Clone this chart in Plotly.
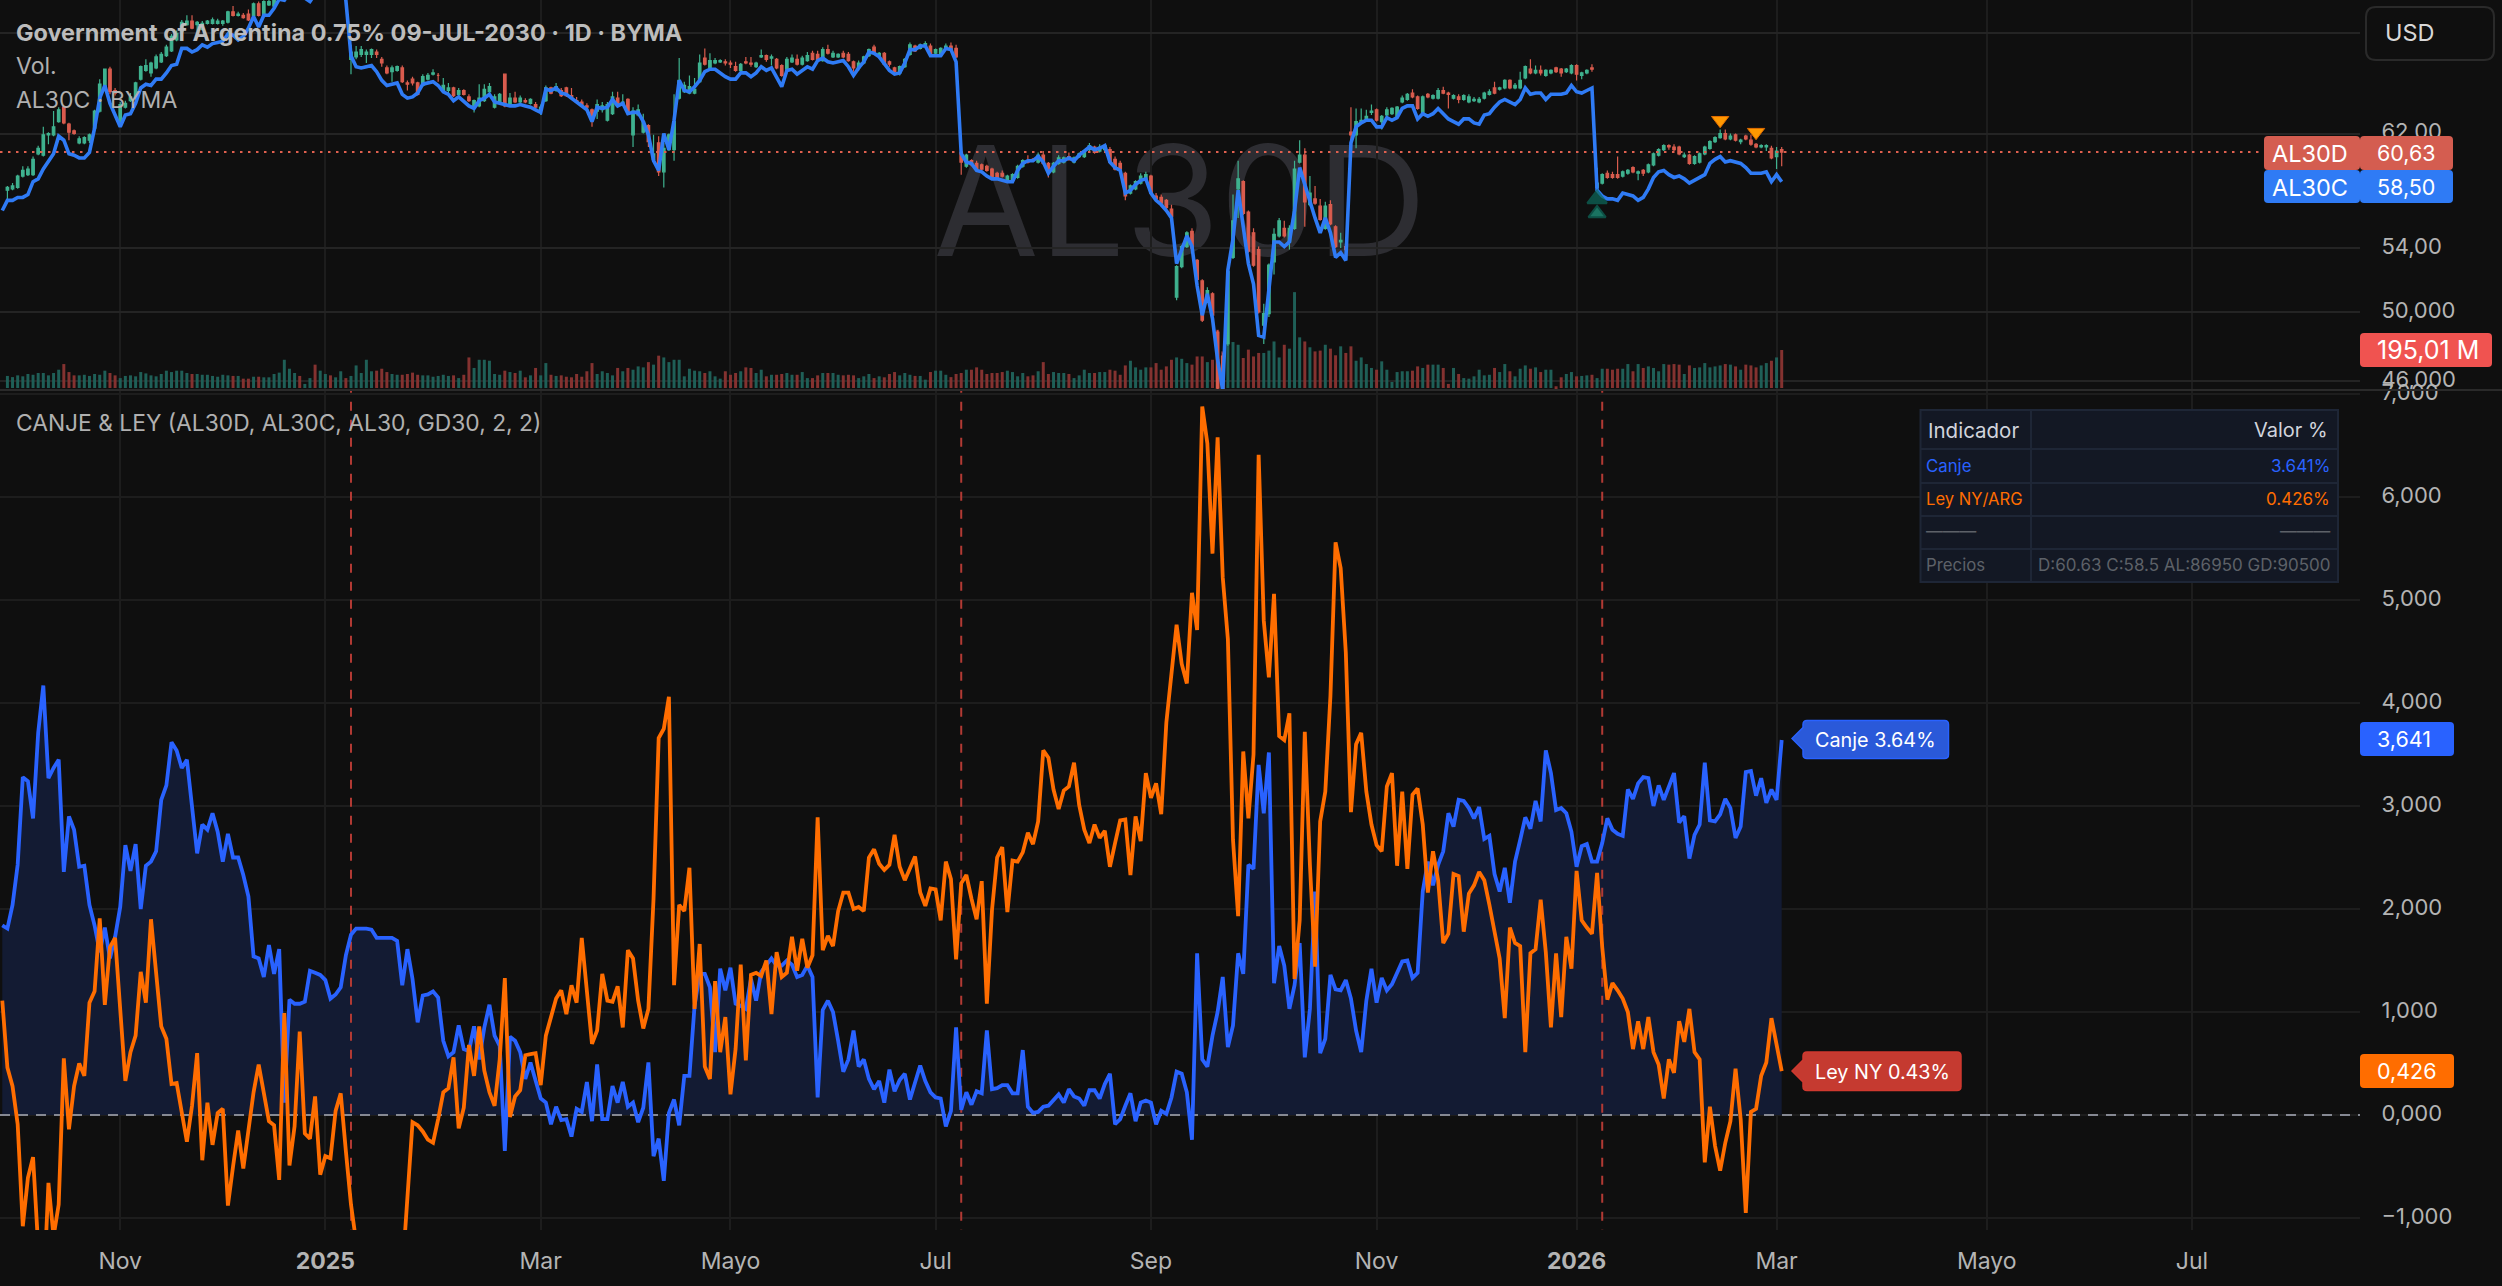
import math
import numpy as np
import plotly.graph_objects as go

# ---------- data ----------
al30d_open = [57.9,58.0,58.1,58.9,59.0,59.0,60.5,60.4,61.9,61.9,62.9,64.0,62.7,62.2,61.3,61.3,61.5,62.4,63.7,65.5,67.0,65.3,62.9,64.0,64.5,64.7,66.2,66.9,66.7,67.1,67.6,68.1,68.5,69.4,70.1,70.7,71.0,70.7,70.3,70.8,70.8,70.8,70.8,70.9,71.8,71.5,71.5,71.6,71.5,72.5,71.4,72.4,72.3,
 73.0,73.4,73.7,74.0,74.2,74.0,74.4,74.7,74.4,74.9,75.2,75.0,75.3,75.5,
 67.8,68.0,68.2,68.2,68.2,68.4,67.8,67.1,66.8,66.9,67.1,65.9,66.2,65.9,65.7,66.2,66.6,66.5,65.3,65.3,65.5,65.0,65.3,64.8,64.0,64.1,64.5,65.2,64.0,64.3,66.6,64.2,64.7,64.4,64.5,64.3,64.2,63.8,64.5,65.5,65.3,65.3,65.5,64.9,64.5,64.4,64.1,63.8,63.7,63.8,
 63.0,63.5,64.7,64.2,64.6,61.9,63.4,62.1,62.6,60.1,61.3,59.2,60.8,60.8,64.7,65.2,65.1,65.1,66.0,67.9,67.1,67.5,67.6,67.6,67.5,67.2,66.9,67.6,67.5,67.2,68.0,68.1,67.9,67.8,67.3,67.0,67.6,67.8,67.4,67.7,68.3,68.2,67.7,68.6,68.0,68.0,68.3,68.2,67.6,67.1,67.5,68.1,68.8,68.1,68.3,67.6,67.1,66.7,67.2,68.2,68.9,68.7,68.9,68.9,68.3,68.1,68.7,68.9,68.7,
 60.6,59.6,60.0,59.8,59.7,59.6,59.4,59.1,59.1,58.6,58.6,58.8,59.6,60.0,60.1,59.9,60.4,59.8,59.2,59.8,59.9,60.3,59.9,60.3,60.3,60.8,61.0,60.7,60.8,60.8,60.1,59.8,59.1,57.7,58.0,58.4,58.6,58.9,57.5,57.4,57.2,56.6,50.9,52.8,54.1,55.1,53.2,
 51.9,50.7,51.1,48.8,47.4,48.1,53.4,58.0,58.5,56.4,55.0,53.9,49.2,49.9,53.1,54.8,55.3,54.4,55.3,59.9,60.4,56.9,57.3,56.8,55.3,56.9,55.4,54.4,54.1,62.1,61.9,62.8,63.0,63.6,63.8,62.9,63.4,63.5,63.3,64.4,64.6,65.1,64.8,63.6,65.0,64.7,64.7,65.3,65.1,64.7,64.8,64.6,64.4,64.5,64.4,64.7,65.0,65.5,65.4,65.5,66.1,65.5,65.5,66.3,67.0,66.7,66.9,66.5,66.7,67.1,67.0,66.8,66.7,67.3,66.5,66.7,67.1,
 58.1,58.4,59.1,59.0,59.0,58.9,59.1,59.5,59.1,59.3,59.2,59.7,60.4,60.8,61.1,61.0,61.0,60.3,60.4,59.8,59.9,60.5,60.9,61.4,61.7,62.0,61.6,61.9,61.4,61.8,61.5,61.2,61.0,61.0,60.9,60.3,60.8]
al30d_close = [58.1,58.2,58.9,59.3,59.4,60.1,60.9,61.9,62.0,62.5,63.8,62.8,62.1,62.0,61.6,61.7,61.9,63.7,65.8,67.0,65.2,65.1,64.2,64.3,64.8,65.9,67.2,67.3,67.5,68.0,68.2,68.8,69.7,69.95,70.9,71.0,70.4,70.9,70.8,71.0,71.1,71.0,71.0,71.8,71.5,71.6,71.3,71.1,72.5,71.5,72.7,72.7,72.8,
 73.5,73.8,74.0,74.3,74.0,74.5,74.8,74.4,74.9,75.2,75.0,75.3,75.6,75.2,
 68.4,68.4,68.6,68.4,68.6,68.2,67.5,66.7,67.1,67.2,66.0,65.8,65.9,65.0,66.4,66.5,66.7,66.5,65.7,65.5,64.9,65.3,65.0,64.5,64.5,64.7,65.4,65.6,64.8,65.0,64.1,64.7,64.4,64.7,64.4,64.6,64.0,64.0,65.5,65.1,65.6,64.9,64.9,64.7,64.4,64.2,64.0,63.0,64.2,64.1,
 64.2,64.8,64.1,64.4,63.5,63.7,63.8,62.9,61.4,60.5,59.2,60.9,61.9,62.9,66.1,65.7,65.6,65.4,67.5,67.4,67.7,67.7,67.7,67.5,67.4,66.9,67.4,67.5,67.4,67.5,68.1,67.8,68.0,67.1,66.5,67.8,67.9,67.4,67.9,68.1,67.8,67.8,68.6,68.3,68.3,68.2,68.0,67.7,67.1,67.5,68.0,68.6,68.3,68.3,67.4,67.4,66.8,67.2,67.8,69.0,68.5,69.0,69.1,68.2,68.6,68.7,68.9,68.6,68.0,
 59.9,60.4,59.7,59.4,59.4,59.3,58.8,58.8,58.9,58.9,59.0,59.6,60.0,59.9,60.0,60.4,59.8,59.2,59.8,60.2,60.2,60.1,60.2,60.5,60.7,61.1,60.6,61.0,61.1,59.9,59.4,59.4,57.5,58.2,58.5,58.9,59.0,57.7,57.3,57.0,56.7,56.1,52.8,54.1,55.0,54.0,52.0,
 49.5,51.3,49.8,45.6,45.5,52.5,55.8,58.7,56.3,53.8,52.9,50.0,49.9,52.9,54.9,55.8,54.8,55.3,59.4,60.4,57.1,57.7,57.0,55.9,56.8,55.6,54.1,54.5,53.9,61.9,62.9,63.0,63.3,63.7,63.0,63.3,63.8,63.9,64.0,64.7,65.0,64.8,63.9,64.8,64.8,64.9,65.3,65.1,65.0,64.9,64.6,64.9,64.8,64.6,64.6,65.1,65.2,65.1,65.5,66.1,65.5,65.7,66.1,67.2,66.7,66.9,66.7,66.9,66.9,66.8,66.7,67.0,67.3,66.6,66.7,66.9,67.0,
 58.4,59.0,58.8,58.8,58.8,59.2,59.3,59.2,59.2,59.1,59.7,60.5,60.8,61.1,61.0,60.8,60.5,60.4,59.8,60.3,60.5,61.0,61.4,61.7,62.0,61.6,61.8,61.5,61.5,61.6,61.2,61.0,61.1,61.1,60.2,60.7,60.63]
al30d_high = [58.2,58.4,59.0,59.6,59.6,60.3,61.1,62.5,62.1,63.7,64.0,64.1,62.8,62.3,61.8,61.8,62.0,63.8,66.2,67.0,67.2,65.5,64.4,64.5,65.1,66.0,67.3,67.8,67.6,68.2,68.4,69.0,69.9,70.2,71.1,71.5,71.5,71.0,71.0,71.1,71.3,71.2,71.1,71.9,72.3,71.8,71.7,72.0,72.6,72.7,72.8,73.0,73.2,
 73.7,74.0,74.2,74.5,74.4,74.7,75.0,74.9,75.1,75.4,75.4,75.5,75.8,75.7,
 69.0,68.9,68.9,68.6,68.7,68.6,68.0,67.3,67.3,67.3,67.3,66.1,66.4,66.0,66.6,66.7,67.0,66.7,66.3,65.9,65.6,65.5,65.4,65.0,64.6,65.8,65.8,65.9,65.0,65.1,66.6,65.1,65.2,64.9,64.7,64.7,64.4,64.2,65.7,65.6,65.9,65.5,65.6,65.5,64.8,64.6,64.3,63.9,64.6,64.4,
 64.4,65.2,65.2,65.0,64.7,64.0,64.2,63.5,62.7,61.9,61.8,61.3,62.0,65.0,67.9,66.0,66.5,66.3,68.2,68.7,68.3,67.9,67.8,67.8,67.7,67.6,67.5,68.0,68.0,67.6,68.6,68.2,68.2,67.9,67.4,68.0,68.2,68.2,68.1,68.4,68.5,68.5,68.8,69.0,68.5,68.3,68.5,68.4,67.7,67.7,68.1,68.7,69.0,68.4,68.4,67.7,67.2,67.3,67.9,69.2,69.0,69.1,69.3,69.1,68.7,68.8,69.1,69.2,69.0,
 60.9,60.5,60.1,60.0,59.8,59.7,59.5,59.2,59.3,59.0,59.1,59.7,60.1,60.4,60.2,60.6,60.7,59.9,59.9,60.4,60.3,60.6,60.3,60.6,60.8,61.3,61.1,61.2,61.2,61.0,60.3,60.0,59.2,58.3,58.6,59.1,59.2,59.0,57.7,57.6,57.3,56.9,52.9,54.2,55.1,55.3,53.3,
 52.0,51.5,51.2,48.9,47.6,52.6,57.6,60.0,58.6,56.5,55.3,54.1,50.5,53.0,55.3,56.0,55.8,55.5,60.0,61.5,60.9,58.9,58.2,57.3,57.1,57.2,55.5,55.0,54.7,64.0,63.9,63.9,63.8,64.2,63.9,63.4,64.0,64.0,64.1,64.9,65.1,65.4,64.9,64.9,65.1,65.0,65.5,65.6,65.2,65.0,65.0,65.0,65.0,64.8,64.8,65.2,65.4,66.0,65.6,66.2,66.2,65.9,66.8,67.3,67.8,67.3,67.3,67.0,67.0,67.2,67.1,67.1,67.4,67.4,66.8,67.0,67.4,
 59.5,59.1,59.3,59.2,60.3,59.3,59.4,59.6,59.3,59.4,59.8,60.6,60.9,61.2,61.2,61.2,61.1,60.6,60.5,60.4,60.6,61.1,61.5,61.8,62.3,62.3,62.0,62.0,61.6,61.9,61.9,61.3,61.2,61.2,61.1,61.0,61.0]
al30d_low = [57.1,57.9,58.0,58.8,58.9,58.9,60.4,60.3,61.2,61.8,62.8,62.7,61.5,61.9,61.2,61.2,61.3,62.3,63.6,65.4,65.0,64.9,62.8,63.9,64.4,64.6,66.1,66.8,66.4,67.0,67.5,68.0,68.4,69.3,70.0,70.6,70.3,70.1,70.2,70.7,70.7,70.7,70.6,70.8,71.4,71.4,71.2,71.0,71.4,71.4,71.3,72.3,72.2,
 72.9,73.3,73.6,73.9,73.9,73.9,74.3,74.3,74.3,74.8,74.9,74.9,75.2,75.1,
 66.6,67.8,68.0,67.5,67.9,67.9,67.2,66.6,66.0,66.8,65.9,65.3,65.7,64.9,65.6,66.1,66.5,66.0,65.2,65.1,64.8,64.9,64.9,64.4,63.6,64.0,64.4,65.1,63.9,64.2,64.0,64.1,64.3,64.3,64.3,64.2,63.9,63.4,64.4,65.0,65.2,64.8,64.8,64.6,64.3,64.1,63.7,62.5,63.1,63.6,
 62.9,63.4,64.0,64.1,63.4,61.0,63.3,62.0,61.0,60.0,58.9,58.1,60.7,60.0,64.6,65.1,65.0,65.0,65.9,67.3,67.0,67.4,67.5,67.3,67.1,66.8,66.7,67.4,67.2,67.1,67.9,67.6,67.3,67.0,66.4,66.9,67.5,67.3,67.3,67.6,67.7,67.7,67.6,68.2,67.9,67.9,67.9,67.6,66.8,66.9,67.4,68.0,68.2,68.0,67.3,67.2,66.7,66.5,67.1,68.1,68.4,68.6,68.8,68.1,68.2,68.0,68.6,68.5,67.9,
 59.0,59.5,59.6,59.3,59.3,59.2,58.7,58.7,58.8,58.5,58.4,58.7,59.5,59.8,59.9,59.8,59.7,58.8,59.1,59.7,59.8,60.0,59.8,60.2,60.2,60.7,60.5,60.6,60.7,59.8,59.3,59.3,57.2,57.6,57.9,58.3,58.5,57.6,57.2,56.9,56.6,56.0,50.7,52.7,54.0,53.9,51.9,
 49.4,50.6,49.7,45.5,45.4,48.0,53.3,56.0,56.2,53.7,52.8,49.9,48.1,49.7,52.3,54.7,54.7,53.9,55.2,59.8,55.4,56.8,56.9,55.8,55.2,55.5,54.0,54.0,53.5,60.8,60.9,62.7,62.9,63.4,62.9,62.3,63.3,63.4,63.2,64.3,64.5,64.7,63.8,63.5,64.7,64.6,64.6,65.0,63.9,64.6,64.3,64.5,64.3,64.4,64.3,64.6,64.9,65.0,65.3,65.4,65.4,65.4,65.4,66.2,66.6,66.6,66.5,66.4,66.6,66.7,66.4,66.7,66.6,66.1,66.2,66.6,66.8,
 58.0,58.3,58.7,58.7,58.7,58.8,59.0,59.1,58.6,58.9,59.1,59.6,60.3,60.7,60.8,60.7,60.4,60.2,59.7,59.7,59.8,60.4,60.8,61.3,61.6,61.5,61.5,61.4,61.2,61.5,61.1,60.9,60.9,60.7,60.1,59.4,59.6]
al30c_close = [56.5,57.2,57.2,57.4,57.4,57.6,58.5,58.7,59.4,60.0,60.5,61.8,61.5,60.5,60.4,60.2,60.2,60.6,62.4,64.7,65.7,64.3,63.4,62.5,63.4,63.5,64.3,65.5,65.8,65.7,66.2,66.2,66.7,67.3,67.4,68.7,68.7,68.4,68.6,69.0,68.8,69.1,69.2,69.3,69.9,69.8,69.4,69.7,70.4,71.4,70.5,71.5,71.5,72.1,
 72.9,72.8,73.5,74.0,73.6,73.0,72.7,73.4,74.0,74.5,75.0,75.2,75.5,72.8,
 68.1,67.2,67.1,67.2,67.3,66.8,66.1,65.7,65.8,65.9,65.0,64.7,64.8,65.1,65.8,65.9,66.0,65.7,65.2,65.0,64.5,64.8,64.4,64.1,63.9,64.5,64.7,65.0,64.4,64.3,64.2,64.1,64.1,64.2,64.1,64.0,63.8,63.6,65.4,65.3,65.5,65.1,65.0,64.7,64.4,64.1,63.8,62.9,64.0,63.9,
 64.0,64.6,64.1,64.3,63.5,63.6,63.6,62.9,61.9,60.0,59.3,62.0,60.8,63.0,66.1,65.3,65.2,65.6,66.1,66.8,67.0,67.0,66.7,66.4,66.2,66.2,66.7,66.7,66.4,66.7,67.2,66.9,67.1,66.3,65.6,66.9,67.0,66.6,66.9,67.2,67.0,67.7,67.9,67.6,67.5,67.6,67.7,67.2,66.5,67.1,67.6,68.4,68.3,68.0,67.4,66.9,66.6,66.7,67.5,68.6,68.6,68.9,68.9,68.1,68.1,68.1,68.7,68.6,67.6,
 60.5,59.9,59.8,59.3,59.2,58.9,58.7,58.7,58.6,58.5,58.5,59.3,59.8,60.0,60.0,60.3,59.9,59.1,59.6,60.0,60.0,60.2,60.0,60.4,60.7,61.0,60.8,60.9,61.1,59.9,59.5,59.3,57.7,57.9,58.3,58.6,58.7,57.7,57.2,56.9,56.5,56.0,53.0,53.9,54.8,54.1,51.6,
 49.8,51.1,49.6,47.2,45.5,52.6,54.6,57.9,55.4,53.0,51.7,48.6,48.5,51.5,54.4,54.4,54.1,54.4,56.5,59.5,58.3,57.0,56.0,55.0,56.0,55.0,53.4,53.7,53.2,61.3,62.5,62.8,63.0,63.0,62.5,62.5,63.2,63.0,63.2,63.9,64.1,64.1,63.1,63.5,63.3,63.5,63.9,63.5,63.1,62.9,62.7,63.1,63.1,62.8,62.7,63.4,63.5,64.0,64.4,64.6,64.4,64.2,64.6,65.5,65.0,65.1,65.1,64.6,65.0,65.0,65.0,65.1,65.7,65.2,65.1,65.3,65.5,
 57.9,57.5,57.3,57.3,57.2,57.7,57.6,57.5,57.2,57.4,58.0,58.8,59.2,59.3,59.0,58.8,58.9,58.7,58.4,58.6,58.8,59.0,59.8,60.1,60.3,59.9,60.0,59.9,59.8,59.5,59.1,59.1,59.1,59.2,58.5,59.0,58.5]
volume_m = [60,62,56,65,60,72,68,77,77,65,77,94,123,82,65,65,68,62,72,68,89,77,65,51,62,65,60,82,75,65,60,72,89,82,89,89,77,72,72,68,68,62,58,68,65,62,62,48,48,58,58,55,55,72,79,145,99,77,62,21,51,120,89,72,65,55,86,51,62,116,77,145,86,89,99,82,72,68,68,72,79,68,65,65,58,62,68,62,65,51,68,157,103,145,145,140,72,68,89,82,77,89,55,65,103,65,128,68,62,65,58,55,72,58,86,128,72,
 86,77,65,103,86,103,94,111,106,133,120,166,157,133,145,145,60,99,89,86,77,86,60,48,86,68,77,86,106,103,77,94,60,68,68,72,77,68,68,82,51,51,65,77,77,77,68,65,68,65,51,60,72,51,60,55,72,82,65,77,68,62,62,43,82,89,89,68,56,72,77,94,94,106,94,72,77,77,82,89,82,60,77,60,65,86,133,72,82,77,77,72,51,65,94,77,77,82,82,94,89,68,116,140,106,94,106,106,128,94,111,145,157,150,128,120,162,
 162,133,145,299,188,222,236,222,154,197,162,180,180,192,239,157,222,202,492,260,239,209,188,192,222,202,168,214,180,214,140,157,123,103,94,137,94,31,82,86,86,89,111,103,120,120,120,103,21,103,72,51,48,60,94,65,68,103,82,123,86,60,99,116,99,106,82,94,94,9,55,72,82,60,62,65,68,51,99,99,94,99,99,123,86,123,103,111,103,86,123,120,123,120,72,116,103,106,128,106,111,116,123,120,111,94,120,116,106,116,128,140,157,195.01]
canje_pct = [1.84,1.81,2.04,2.43,3.28,3.24,2.88,3.71,4.17,3.27,3.37,3.45,2.36,2.90,2.77,2.41,2.42,2.04,1.84,1.58,1.82,1.52,1.73,2.02,2.62,2.37,2.63,2.00,2.42,2.46,2.56,3.06,3.20,3.62,3.54,3.37,3.45,3.01,2.54,2.82,2.77,2.93,2.75,2.46,2.73,2.50,2.50,2.33,2.12,1.54,1.52,1.34,1.65,1.37,1.61,0.12,1.12,1.08,1.08,1.10,1.40,1.38,1.36,1.31,1.13,1.17,1.24,1.55,1.75,1.81,1.81,1.81,1.80,1.72,1.72,1.72,1.72,1.69,1.26,1.61,1.32,0.90,1.16,1.17,1.20,1.14,0.72,0.57,0.61,0.87,0.64,0.62,0.86,0.54,0.85,1.07,0.77,0.67,-0.35,0.76,0.72,0.61,0.35,0.51,0.33,0.16,0.12,-0.09,0.08,-0.05,-0.04,-0.21,0.06,0.03,0.32,-0.06,0.49,-0.04,
 -0.04,0.28,0.12,0.32,0.08,0.12,-0.07,0.07,0.51,-0.40,-0.23,-0.64,0.02,0.15,-0.10,0.38,0.38,1.06,1.37,1.37,1.24,0.61,1.42,1.21,1.43,1.08,1.06,1.03,1.32,1.11,1.39,1.45,1.52,1.45,1.45,1.50,1.46,1.34,1.36,1.45,1.34,0.17,1.02,1.11,1.00,0.72,0.42,0.54,0.82,0.47,0.54,0.35,0.25,0.33,0.12,0.44,0.23,0.34,0.40,0.15,0.33,0.48,0.33,0.22,0.17,0.16,-0.11,0.04,0.85,0.05,0.22,0.10,0.23,0.21,0.82,0.25,0.26,0.29,0.29,0.21,0.21,0.63,0.08,0.02,0.03,0.08,0.09,0.15,0.20,0.12,0.25,0.18,0.16,0.09,0.24,0.24,0.16,0.30,0.40,-0.09,-0.04,0.09,0.21,-0.06,0.12,0.14,0.12,-0.09,0.04,0.01,0.17,0.42,0.40,0.22,-0.24,1.57,
 0.54,0.47,0.77,1.00,1.34,0.66,0.87,1.57,1.37,2.43,2.39,3.40,2.93,3.52,1.28,1.64,1.45,1.03,1.26,1.67,0.56,1.03,2.17,0.60,0.74,1.36,1.22,1.21,1.31,1.13,0.82,0.61,1.11,1.42,1.09,1.33,1.21,1.27,1.37,1.49,1.50,1.33,1.38,2.17,2.46,2.23,2.43,2.56,2.93,2.80,3.06,3.05,2.98,2.88,2.99,2.68,2.71,2.34,2.17,2.40,2.06,2.46,2.67,2.89,2.78,3.05,2.85,3.54,3.32,2.96,2.98,2.93,2.75,2.41,2.61,2.63,2.46,2.46,2.64,2.88,2.77,2.73,2.71,3.16,3.07,3.22,3.28,3.27,3.00,3.20,3.06,3.18,3.32,2.84,2.90,2.49,2.72,2.82,3.42,2.86,2.85,2.92,3.07,2.98,2.69,2.80,3.33,3.34,3.10,3.27,3.03,3.16,3.06,3.641]
ley_pct = [1.11,0.46,0.28,-0.09,-1.08,-0.61,-0.41,-1.28,-1.80,-0.66,-1.18,-0.87,0.55,-0.14,0.28,0.50,0.38,1.09,1.20,1.91,1.07,1.63,1.72,1.06,0.33,0.61,0.77,1.39,1.09,1.90,1.34,0.86,0.74,0.30,0.31,0.02,-0.26,0.09,0.60,-0.44,0.12,-0.29,0.02,0.06,-0.88,-0.50,-0.15,-0.52,-0.14,0.22,0.49,0.22,-0.06,-0.10,-0.63,0.99,-0.49,-0.11,0.81,-0.18,-0.23,0.18,-0.58,-0.40,-0.42,0.04,0.21,-0.35,-0.87,-1.23,-1.13,-1.54,-1.80,-2.06,-2.32,-2.32,-2.22,-2.12,-1.54,-0.76,-0.07,-0.10,-0.16,-0.24,-0.27,-0.04,0.22,0.26,0.56,-0.13,0.07,0.68,0.38,0.86,0.43,0.22,0.09,0.54,1.33,-0.02,0.18,0.24,0.58,0.59,0.60,0.29,0.77,0.95,1.13,1.21,0.98,1.26,1.09,1.72,1.16,0.69,0.82,1.37,
 1.11,1.10,1.25,0.85,1.60,1.52,1.11,0.84,1.03,2.10,3.66,3.75,4.06,1.26,2.04,1.98,2.40,1.03,1.66,0.47,0.35,1.30,0.61,0.95,0.20,0.64,1.46,0.53,1.36,1.38,1.35,1.50,0.98,1.58,1.34,1.38,1.73,1.40,1.71,1.43,1.55,2.89,1.60,1.74,1.64,1.98,2.16,2.16,2.00,2.02,1.98,2.50,2.58,2.44,2.38,2.43,2.72,2.41,2.28,2.40,2.51,2.16,2.03,2.20,2.19,1.89,2.46,2.29,1.51,2.25,2.33,2.10,1.90,2.27,1.08,1.99,2.50,2.60,1.97,2.47,2.46,2.55,2.74,2.63,2.85,3.54,3.47,3.16,2.97,3.15,3.19,3.42,3.01,2.77,2.64,2.82,2.69,2.76,2.41,2.64,2.86,2.87,2.33,2.90,2.66,3.32,3.08,3.22,2.92,3.81,4.31,4.76,4.38,4.19,5.07,4.71,
 6.88,6.52,5.45,6.58,5.22,4.62,2.67,1.93,3.53,2.88,3.50,6.41,4.80,4.25,5.06,3.68,3.64,3.90,1.32,1.89,3.72,2.43,1.44,2.85,3.14,4.07,5.56,5.31,4.49,2.94,3.60,3.71,3.14,2.82,2.62,2.56,3.19,3.32,2.42,3.14,2.39,3.11,3.17,2.82,2.16,2.56,2.28,1.67,1.76,2.34,2.32,1.78,2.15,2.23,2.36,2.28,2.04,1.76,1.52,0.94,1.82,1.67,1.64,0.61,1.57,1.61,2.09,1.58,0.85,1.57,0.95,1.73,1.42,2.37,1.89,1.82,1.76,2.35,1.63,1.12,1.28,1.21,1.13,1.00,0.64,0.91,0.64,0.95,0.61,0.49,0.16,0.54,0.41,0.91,0.71,1.03,0.61,0.54,-0.46,0.08,-0.30,-0.54,-0.27,-0.06,0.45,-0.04,-0.95,0.03,0.06,0.38,0.51,0.94,0.67,0.426]

month_labels = ["Nov", "<b>2025</b>", "Mar", "Mayo", "Jul", "Sep", "Nov", "<b>2026</b>", "Mar", "Mayo", "Jul"]
month_bars_back = [324, 284, 242, 205, 165, 123, 79, 40, 1, -40, -80]
event_bars_back = [279, 160, 35]
price_ticks = [70, 62, 54, 50, 46]
price_tick_text = ["", "62,00", "54,00", "50,000", "46,000"]
pct_ticks = [7, 6, 5, 4, 3, 2, 1, 0, -1]
pct_tick_text = ["7,000", "6,000", "5,000", "4,000", "3,000", "2,000", "1,000", "0,000", "\u22121,000"]
sell_back, sell_price = [12, 5], [63.0, 62.1]
buy_back, buy_price = [36, 36], [57.3, 56.3]

# ---------- geometry & styles ----------
W, H = 2502, 1286
BG = "#0f0f0f"
GRID = "#1d1d1d"
TXT = "#b4b4b4"
BLUE = "#2962ff"
UPPER_BLUE = "#2f7bf5"
ORANGE = "#ff6d00"
FONT = "Inter"
BAR_PX = 5.128
LAST_PX = 1781.7
AXIS_PX = 2360


def px(x):
    return x / W


def py(y):
    return 1 - y / H


def end_x(seq):
    """Bar index for a series, aligned on the last bar (index 0 = last bar)."""
    return np.arange(len(seq)) - (len(seq) - 1)


x_left = -LAST_PX / BAR_PX
x_right = x_left + AXIS_PX / BAR_PX
tick_x = [-b for b in month_bars_back]

fig = go.Figure()

# volume
n_vol = min(len(volume_m), len(al30d_open))
vol_colors = ["#1f5f57" if c >= o else "#843230"
              for o, c in zip(al30d_open[-n_vol:], al30d_close[-n_vol:])]
fig.add_trace(go.Bar(x=end_x(volume_m[-n_vol:]), y=volume_m[-n_vol:], marker=dict(color=vol_colors, line_width=0),
                     width=0.58, yaxis="y", xaxis="x", hoverinfo="skip"))

# last price line
fig.add_trace(go.Scatter(x=[x_left, x_right], y=[al30d_close[-1]] * 2, mode="lines", yaxis="y3", xaxis="x",
                         line=dict(color="#e0604f", width=2, dash="2.5px,5.5px"), hoverinfo="skip"))
# candles
fig.add_trace(go.Candlestick(x=end_x(al30d_open), open=al30d_open, high=al30d_high, low=al30d_low, close=al30d_close,
                             yaxis="y3", xaxis="x", whiskerwidth=0,
                             increasing=dict(line=dict(color="#3fb28f", width=1.2), fillcolor="#3fb28f"),
                             decreasing=dict(line=dict(color="#d95c4e", width=1.2), fillcolor="#d95c4e"),
                             hoverinfo="skip"))
# AL30C
fig.add_trace(go.Scatter(x=end_x(al30c_close), y=al30c_close, mode="lines", yaxis="y3", xaxis="x",
                         line=dict(color=UPPER_BLUE, width=3.6), hoverinfo="skip"))
# signal markers
fig.add_trace(go.Scatter(x=[-b for b in sell_back], y=sell_price, mode="markers", yaxis="y3", xaxis="x",
                         marker=dict(symbol="triangle-down", size=15, color="#ff9800", line=dict(color="#e06c00", width=1)),
                         hoverinfo="skip"))
fig.add_trace(go.Scatter(x=[-b for b in buy_back], y=buy_price, mode="markers", yaxis="y3", xaxis="x",
                         marker=dict(symbol="triangle-up", size=[17, 15], color=["#0d6b5c", "#1f9e85"],
                                     line=dict(color="#0d6b5c", width=2)),
                         hoverinfo="skip"))

# lower pane
canje_pos = np.clip(np.array(canje_pct), 0, None)
fig.add_trace(go.Scatter(x=end_x(canje_pct), y=canje_pos, mode="lines", line=dict(width=0, color="rgba(0,0,0,0)"),
                         fill="tozeroy", fillcolor="#131b33", yaxis="y2", xaxis="x2", hoverinfo="skip"))
fig.add_trace(go.Scatter(x=[x_left, x_right], y=[0, 0], mode="lines", yaxis="y2", xaxis="x2",
                         line=dict(color="#868993", width=2, dash="10px,8px"), hoverinfo="skip"))
for b in event_bars_back:
    fig.add_trace(go.Scatter(x=[-b, -b], y=[7.1, -1.2], mode="lines", yaxis="y2", xaxis="x2",
                             line=dict(color="#b23a34", width=2, dash="9px,9px"), hoverinfo="skip"))
fig.add_trace(go.Scatter(x=end_x(canje_pct), y=canje_pct, mode="lines", yaxis="y2", xaxis="x2",
                         line=dict(color=BLUE, width=3.8), hoverinfo="skip"))
fig.add_trace(go.Scatter(x=end_x(ley_pct), y=ley_pct, mode="lines", yaxis="y2", xaxis="x2",
                         line=dict(color=ORANGE, width=3.8), hoverinfo="skip"))

shapes = []
annots = []


def rrect(x0, y0, x1, y1, fill, line=None, r=4, lw=2, layer="above"):
    path = (f"M{px(x0 + r)},{py(y0)} L{px(x1 - r)},{py(y0)} Q{px(x1)},{py(y0)} {px(x1)},{py(y0 + r)} "
            f"L{px(x1)},{py(y1 - r)} Q{px(x1)},{py(y1)} {px(x1 - r)},{py(y1)} "
            f"L{px(x0 + r)},{py(y1)} Q{px(x0)},{py(y1)} {px(x0)},{py(y1 - r)} "
            f"L{px(x0)},{py(y0 + r)} Q{px(x0)},{py(y0)} {px(x0 + r)},{py(y0)} Z")
    shapes.append(dict(type="path", path=path, xref="paper", yref="paper", fillcolor=fill,
                       line=dict(color=line or fill, width=lw if line else 0), layer=layer))


def rect(x0, y0, x1, y1, fill, layer="above"):
    shapes.append(dict(type="rect", xref="paper", yref="paper", x0=px(x0), x1=px(x1), y0=py(y0), y1=py(y1),
                       fillcolor=fill, line_width=0, layer=layer))


def text(x, y, s, size=21, color=TXT, anchor="left", family=FONT):
    annots.append(dict(x=px(x), y=py(y), xref="paper", yref="paper", text=s, showarrow=False, xanchor=anchor,
                       yanchor="middle", font=dict(family=family, size=size, color=color), borderpad=0, borderwidth=0))


def callout(x0, y0, x1, y1, tip_x, tip_y, fill, line, label):
    r = 4
    path = (f"M{px(tip_x)},{py(tip_y)} L{px(x0)},{py(tip_y - 11)} L{px(x0)},{py(y0 + r)} "
            f"Q{px(x0)},{py(y0)} {px(x0 + r)},{py(y0)} L{px(x1 - r)},{py(y0)} Q{px(x1)},{py(y0)} {px(x1)},{py(y0 + r)} "
            f"L{px(x1)},{py(y1 - r)} Q{px(x1)},{py(y1)} {px(x1 - r)},{py(y1)} L{px(x0 + r)},{py(y1)} "
            f"Q{px(x0)},{py(y1)} {px(x0)},{py(y1 - r)} L{px(x0)},{py(tip_y + 11)} Z")
    shapes.append(dict(type="path", path=path, xref="paper", yref="paper", fillcolor=fill,
                       line=dict(color=line, width=1.5), layer="above"))
    text((x0 + x1) / 2, (y0 + y1) / 2 + 0.5, label, size=19.8, color="#ffffff", anchor="center")


# pane separator
rect(0, 389, W, 391, "#2a2a2a")

# watermark (below the traces)
shapes.append(dict(type="rect", xref="paper", yref="paper", x0=px(900), x1=px(1460), y0=py(120), y1=py(270),
                   line_width=0, fillcolor="rgba(0,0,0,0)", layer="below",
                   label=dict(text="AL30D", font=dict(family=FONT, size=153, color="#2d2d32"),
                              textposition="middle center")))

# top legend
text(16, 33, "<b>Government of Argentina 0.75% 09-JUL-2030 \u00b7 1D \u00b7 BYMA</b>", size=23.4, color="#bcbcbc")
text(16, 66, "Vol.", size=23, color="#b0b0b0")
text(16, 100, "AL30C \u00b7 BYMA", size=23, color="#b0b0b0")
text(16, 423, "CANJE &amp; LEY (AL30D, AL30C, AL30, GD30, 2, 2)", size=22.8, color="#b0b0b0")

# USD button
rrect(2366, 7, 2494, 60, BG, line="#2a2a2a", r=10)
text(2385, 33, "USD", size=23.5, color="#d8d8d8")

# price tags
rrect(2264, 136, 2360, 170, "#d45d50")
rrect(2360, 136, 2453, 170, "#d45d50")
text(2272, 153, "AL30D", size=23.5, color="#ffffff")
text(2377, 153, "60,63", size=21.5, color="#ffffff")
rrect(2264, 170, 2360, 203, "#2f7bf5")
rrect(2360, 170, 2453, 203, "#2f7bf5")
text(2272, 187, "AL30C", size=23.5, color="#ffffff")
text(2377, 187, "58,50", size=21.5, color="#ffffff")
rrect(2360, 333, 2492, 367, "#f05350")
text(2377, 350, "195,01 M", size=25, color="#ffffff")
rrect(2360, 722, 2454, 756, BLUE)
text(2377, 739, "3,641", size=21.5, color="#ffffff")
rrect(2360, 1054, 2454, 1088, ORANGE)
text(2377, 1071, "0,426", size=21.5, color="#ffffff")

# call-outs
callout(1803, 720.5, 1948.5, 758.5, 1792, 738.5, "#2a59d9", "#2962ff", "Canje 3.64%")
callout(1803, 1052, 1961, 1090.5, 1792, 1071, "#c53a30", "#d0392f", "Ley NY 0.43%")

# table
TBL = "#131824"
TB = "#1e2636"
rect(1919.5, 409, 2339, 583, TB)
cols = [(1921.5, 2030), (2032, 2337)]
rows = [(411, 448), (450, 482), (484, 515), (517, 548), (550, 581)]
for c0, c1 in cols:
    for r0, r1 in rows:
        rect(c0, r0, c1, r1, TBL)
text(1928, 430, "Indicador", size=20.5, color="#d1d4dc")
text(2328, 430, "Valor %", size=20, color="#d1d4dc", anchor="right")
text(1926, 466, "Canje", size=16.8, color=BLUE)
text(2330, 466, "3.641%", size=17, color=BLUE, anchor="right")
text(1926, 499, "Ley NY/ARG", size=16.6, color=ORANGE)
text(2330, 499, "0.426%", size=17, color=ORANGE, anchor="right")
text(1926, 531, "\u2014\u2014\u2014", size=16.8, color="#5d6168")
text(2331, 531, "\u2014\u2014\u2014", size=16.8, color="#5d6168", anchor="right")
text(1926, 565, "Precios", size=16.8, color="#5d6168")
text(2330, 565, "D:60.63 C:58.5 AL:86950 GD:90500", size=17, color="#5d6168", anchor="right")

common_x = dict(range=[x_left, x_right], tickmode="array", tickvals=tick_x, showgrid=True, gridcolor=GRID,
                gridwidth=1.5, zeroline=False, showline=False, automargin=False)
fig.update_layout(
    width=W, height=H, margin=dict(l=0, r=0, t=0, b=0, pad=0), autosize=False,
    paper_bgcolor=BG, plot_bgcolor=BG, showlegend=False, hovermode=False, barmode="overlay",
    xaxis=dict(domain=[0, px(AXIS_PX)], anchor="y", ticktext=[""] * len(tick_x), showticklabels=False,
               rangeslider=dict(visible=False), **common_x),
    xaxis2=dict(domain=[0, px(AXIS_PX)], anchor="y2", ticktext=month_labels, showticklabels=True,
                ticks="outside", ticklen=10, tickcolor="rgba(0,0,0,0)",
                tickfont=dict(family=FONT, size=23, color=TXT), **common_x),
    yaxis=dict(domain=[py(389), 1], anchor="x", range=[-5, 1991], visible=False, showgrid=False, zeroline=False,
               automargin=False),
    yaxis3=dict(domain=[py(389), 1], anchor="x", overlaying="y", side="right", type="log",
                range=[math.log10(45.56), math.log10(72.83)], tickmode="array", tickvals=price_ticks,
                ticktext=price_tick_text, showgrid=True, gridcolor="#242424", gridwidth=1.8, zeroline=False,
                ticks="outside", ticklen=16, tickcolor="rgba(0,0,0,0)", automargin=False, ticklabelshift=-2,
                tickfont=dict(family=FONT, size=22, color=TXT)),
    yaxis2=dict(domain=[py(1230), py(391)], anchor="x2", side="right", range=[-1.117, 7.03], tickmode="array",
                tickvals=pct_ticks, ticktext=pct_tick_text, showgrid=True, gridcolor=GRID, gridwidth=1.5,
                zeroline=False, ticks="outside", ticklen=16, tickcolor="rgba(0,0,0,0)", automargin=False,
                ticklabelshift=-2, tickfont=dict(family=FONT, size=22, color=TXT)),
    shapes=shapes, annotations=annots,
)

fig.write_html("out.html", config=dict(displayModeBar=False),
               post_script="document.body.style.margin='0';document.body.style.overflow='hidden';"
                           "document.body.style.background='#0f0f0f';")
